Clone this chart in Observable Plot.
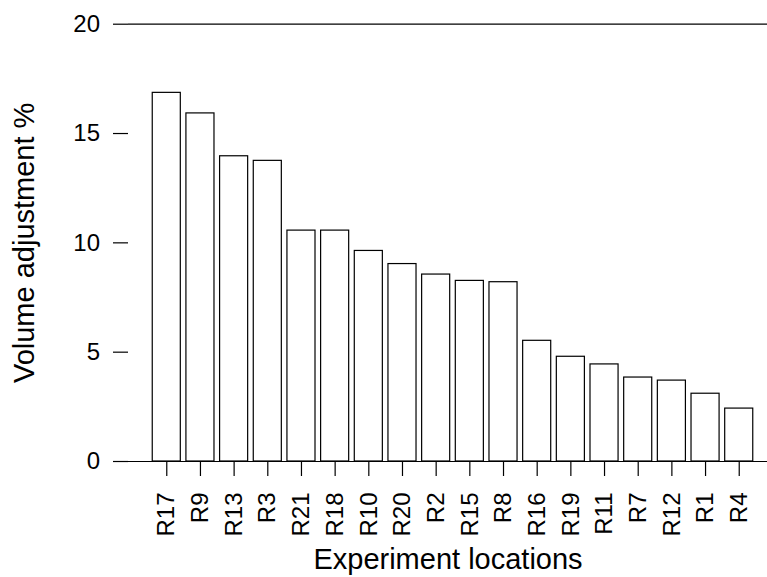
<!DOCTYPE html>
<html>
<head>
<meta charset="utf-8">
<script src="https://cdn.jsdelivr.net/npm/d3@7"></script>
<script src="https://cdn.jsdelivr.net/npm/@observablehq/plot@0.6"></script>
<style>
  html, body { margin: 0; padding: 0; background: #fff; overflow: hidden; }
  #chart svg { display: block; }
</style>
</head>
<body>
<div id="chart"></div>
<script>
const locations = ["R17","R9","R13","R3","R21","R18","R10","R20","R2","R15","R8","R16","R19","R11","R7","R12","R1","R4"];
const values = [16.86, 15.92, 13.96, 13.75, 10.56, 10.56, 9.63, 9.03, 8.55, 8.26, 8.2, 5.52, 4.79, 4.44, 3.84, 3.7, 3.1, 2.42];
const yTicks = [0, 5, 10, 15, 20];
const xTitle = "Experiment locations";
const yTitle = "Volume adjustment %";

const data = locations.map((loc, i) => ({loc, value: values[i]}));

const chart = Plot.plot({
  width: 767,
  height: 577,
  marginLeft: 128,
  marginRight: 0,
  marginTop: 23.7,
  marginBottom: 116,
  style: {fontFamily: "'Liberation Sans', Arial, Helvetica, sans-serif", fontSize: "24px", background: "#fff", color: "#000"},
  x: {domain: locations, range: [128, 777], paddingInner: 1/6, paddingOuter: 0.72, round: false},
  y: {domain: [0, 20]},
  marks: [
    Plot.barY(data, {x: "loc", y: "value", fill: "white", stroke: "#000", strokeWidth: 1.2}),
    Plot.ruleY([0, 20], {stroke: "#000", strokeWidth: 1.2}),
    Plot.axisY({ticks: yTicks, tickSize: 15, tickPadding: 13.5, line: true, label: null, fontSize: 24, strokeWidth: 1.2}),
    Plot.axisX({tickSize: 15, tickPadding: 16, tickRotate: -90, label: null, fontSize: 24, strokeWidth: 1.2}),
    Plot.text([xTitle], {text: d => d, frameAnchor: "bottom", textAnchor: "middle", lineAnchor: "bottom", dy: 107, fontSize: 29}),
    Plot.text([yTitle], {text: d => d, frameAnchor: "left", textAnchor: "middle", rotate: -90, lineAnchor: "middle", dx: -104, fontSize: 29})
  ]
});
document.getElementById("chart").appendChild(chart);
</script>
</body>
</html>
